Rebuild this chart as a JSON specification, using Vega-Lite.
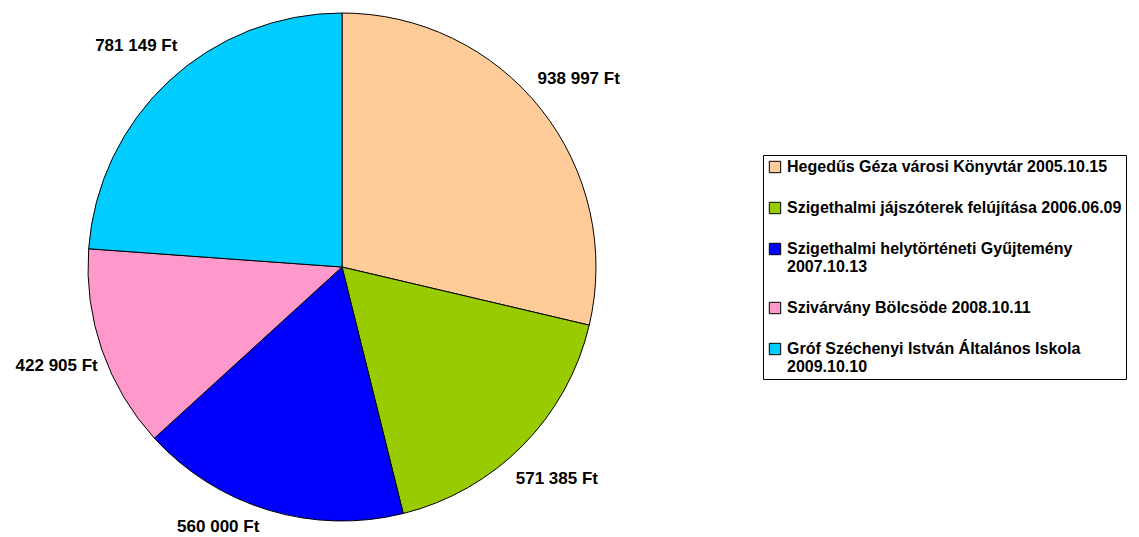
{
  "$schema": "https://vega.github.io/schema/vega-lite/v6.json",
  "width": 684,
  "height": 534,
  "padding": 0,
  "autosize": {"type": "pad"},
  "background": "white",
  "config": {"view": {"stroke": null}, "font": "Liberation Sans"},
  "data": {
    "values": [
      {"idx": 1, "name": "Hegedűs Géza  városi Könyvtár 2005.10.15", "value": 938997, "label": "938 997 Ft"},
      {"idx": 2, "name": "Szigethalmi jájszóterek felújítása 2006.06.09", "value": 571385, "label": "571 385 Ft"},
      {"idx": 3, "name": "Szigethalmi helytörténeti Gyűjtemény|2007.10.13", "value": 560000, "label": "560 000 Ft"},
      {"idx": 4, "name": "Szivárvány Bölcsöde 2008.10.11", "value": 422905, "label": "422 905 Ft"},
      {"idx": 5, "name": "Gróf Széchenyi István Általános Iskola|2009.10.10", "value": 781149, "label": "781 149 Ft"}
    ]
  },
  "encoding": {
    "theta": {"field": "value", "type": "quantitative", "stack": true},
    "order": {"field": "idx", "type": "quantitative"}
  },
  "layer": [
    {
      "mark": {"type": "arc", "outerRadius": 254, "stroke": "black", "strokeWidth": 1},
      "encoding": {
        "color": {
          "field": "name",
          "type": "nominal",
          "scale": {
            "domain": [
              "Hegedűs Géza  városi Könyvtár 2005.10.15",
              "Szigethalmi jájszóterek felújítása 2006.06.09",
              "Szigethalmi helytörténeti Gyűjtemény|2007.10.13",
              "Szivárvány Bölcsöde 2008.10.11",
              "Gróf Széchenyi István Általános Iskola|2009.10.10"
            ],
            "range": ["#FFCC99", "#99CC00", "#0000FF", "#FF99CC", "#00CCFF"]
          },
          "legend": {
            "title": null,
            "orient": "none",
            "legendX": 763,
            "legendY": 155,
            "strokeColor": "black",
            "fillColor": "white",
            "padding": 4,
            "symbolType": "square",
            "symbolSize": 130,
            "symbolStrokeColor": "black",
            "symbolStrokeWidth": 1,
            "symbolOpacity": 1,
            "labelFont": "Liberation Sans",
            "labelFontWeight": "bold",
            "labelFontSize": 16,
            "labelLineHeight": 18,
            "labelColor": "black",
            "labelLimit": 800,
            "labelOffset": 4,
            "rowPadding": 25,
            "labelExpr": "split(datum.label, '|')"
          }
        }
      }
    },
    {
      "mark": {"type": "text", "radius": 302, "font": "Liberation Sans", "fontWeight": "bold", "fontSize": 17, "color": "black", "align": "center", "baseline": "middle"},
      "encoding": {
        "text": {"condition": {"test": "datum.idx == 3", "value": ""}, "field": "label", "type": "nominal"}
      }
    },
    {
      "mark": {"type": "text", "radius": 272, "dx": -45, "font": "Liberation Sans", "fontWeight": "bold", "fontSize": 17, "color": "black", "align": "center", "baseline": "middle"},
      "encoding": {
        "text": {"condition": {"test": "datum.idx != 3", "value": ""}, "field": "label", "type": "nominal"}
      }
    }
  ]
}
